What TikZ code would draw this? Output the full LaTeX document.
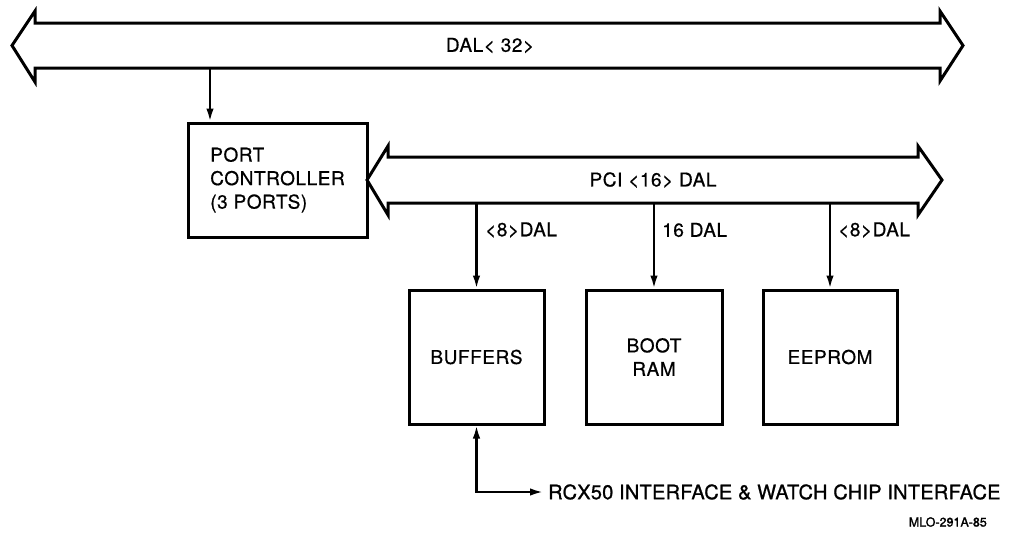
\documentclass[tikz,border=0pt]{standalone}
\usepackage{fontspec}
\setmainfont{TeX Gyre Heros}[FakeBold=0.6]
\usetikzlibrary{arrows.meta}
\begin{document}
\begin{tikzpicture}[x=1pt,y=-1pt,
  bus/.style={line width=3pt, line join=miter, fill=white},
  blk/.style={draw, line width=3pt, fill=white, minimum width=#1, minimum height=134, inner sep=0pt, align=center},
  lbl/.style={inner sep=0pt},
  conn/.style={line width=2.2pt, -{Latex[length=13pt,width=7.5pt]}},
  every node/.style={font=\fontsize{19}{23.5}\selectfont\addfontfeature{LetterSpace=3}}]
\useasboundingbox (0,0) rectangle (1009,538);
% DAL<32> bus
\draw[bus] (35,23) -- (940,23) -- (940,11) -- (963,45.5) -- (940,81) -- (940,68) -- (35,68) -- (35,82) -- (12,45.5) -- (35,11) -- cycle;
\node[lbl] (dal) at (490,45.5) {DAL< 32>};
\coordinate (dalb) at (210,68);
% Port controller
\node[blk=179, minimum height=114, align=left] (pc) at (277.5,180) {PORT\\CONTROLLER\\(3 PORTS)};
\draw[conn] (dalb) -- (dalb |- pc.north);
% PCI bus
\draw[bus] (388,157) -- (918,157) -- (918,146) -- (942,180) -- (918,215) -- (918,203) -- (388,203) -- (388,215) -- (367,180) -- (388,146) -- cycle;
\node[lbl] (pci) at (653,180) {PCI <16> DAL};
% Blocks
\node[blk=135] (buf) at (476.5,357) {BUFFERS};
\node[blk=136] (ram) at (654,357) {BOOT\\RAM};
\node[blk=134] (eep) at (830,357) {EEPROM};
\coordinate (p1) at (476.5,203);
\coordinate (p2) at (654,203);
\coordinate (p3) at (830,203);
\draw[conn] (p1) -- (buf.north);
\draw[conn] (p2) -- (ram.north);
\draw[conn] (p3) -- (eep.north);
\node[lbl, anchor=west] (l1) at (485,230) {<8>DAL};
\node[lbl, anchor=west] (l2) at (662,230) {16 DAL};
\node[lbl, anchor=west] (l3) at (838,230) {<8>DAL};
% Bottom interface
\node[lbl, anchor=west, font=\fontsize{20}{24}\selectfont\addfontfeature{LetterSpace=1.2,FakeBold=1}] (rcx) at (548,492) {RCX50 INTERFACE \& WATCH CHIP INTERFACE};
\coordinate (corner) at (476.5,492);
\draw[line width=2.2pt, {Latex[length=13pt,width=7.5pt]}-{Latex[length=13pt,width=7.5pt]}] (buf.south) -- (corner) -- ([xshift=-5pt]rcx.west);
\node[inner sep=0pt, anchor=east, font=\fontsize{12.5}{15}\selectfont\addfontfeature{FakeBold=1.5}] (mlo) at (987,522) {MLO-291A-85};
\end{tikzpicture}
\end{document}
